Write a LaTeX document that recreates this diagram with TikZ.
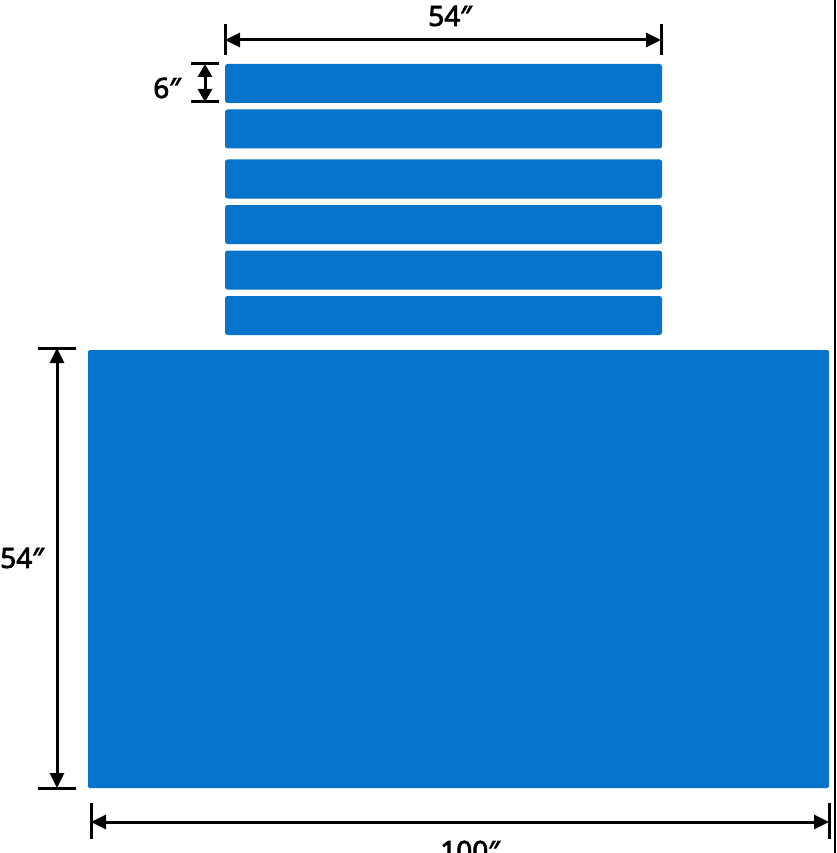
\documentclass[tikz,border=0pt]{standalone}
\usepackage{fontspec}
\setmainfont{Noto Sans}
\newfontfamily\lblfont{Noto Sans}[FakeBold=2.6]
\usetikzlibrary{arrows.meta}
\definecolor{panelblue}{RGB}{6,116,202}
\tikzset{
  strip/.style={fill=panelblue, draw=none, rounded corners=2.5pt, inner sep=0pt, outer sep=0pt, minimum width=437pt, minimum height=39pt},
  mat/.style={fill=panelblue, draw=none, rounded corners=1.5pt, inner sep=0pt, outer sep=0pt, minimum width=741pt, minimum height=438pt},
  dim/.style={line width=3pt, {Triangle[length=15pt,width=14pt]}-{Triangle[length=15pt,width=14pt]}},
  tick/.style={line width=3pt},
  lbl/.style={font=\lblfont\fontsize{28}{30}\selectfont, inner sep=0pt, text=black},
}
\begin{document}
\begin{tikzpicture}[x=1pt,y=-1pt]
\useasboundingbox (0,0) rectangle (836,853);
% strips
\node[strip] (s1) at (443.5,83.5) {};
\node[strip] (s2) at (443.5,129) {};
\node[strip] (s3) at (443.5,179) {};
\node[strip] (s4) at (443.5,224.5) {};
\node[strip] (s5) at (443.5,270) {};
\node[strip] (s6) at (443.5,315.5) {};
% big mat
\node[mat] (m) at (458.5,569) {};
% top 54"
\coordinate (tL) at (225,40);
\coordinate (tR) at (661,40);
\draw[tick] (225,24) -- (225,55);
\draw[tick] (661,24) -- (661,55);
\draw[dim] (tL) -- (tR);
\node[lbl] (t54) at (450,16) {54″};
% 6"
\coordinate (sT) at (205,64);
\coordinate (sB) at (205,102);
\draw[tick] (191,64) -- (219,64);
\draw[tick] (191,102) -- (219,102);
\draw[dim, {Triangle[length=13pt,width=14pt]}-{Triangle[length=13pt,width=14pt]}] (sT) -- (sB);
\node[lbl] (t6) at (167,88) {6″};
% left 54"
\coordinate (lT) at (57,348);
\coordinate (lB) at (57,788);
\draw[tick] (38,348) -- (76,348);
\draw[tick] (38,788) -- (76,788);
\draw[dim] (lT) -- (lB);
\node[lbl] (l54) at (22,558) {54″};
% bottom 100"
\coordinate (bL) at (91,822);
\coordinate (bR) at (829,822);
\draw[tick] (91,803) -- (91,839);
\draw[tick] (829,803) -- (829,839);
\draw[dim] (bL) -- (bR);
\node[lbl] (b100) at (470,851) {100″};
% right border line
\draw[line width=2pt] (834.5,0) -- (834.5,853);
\end{tikzpicture}
\end{document}
